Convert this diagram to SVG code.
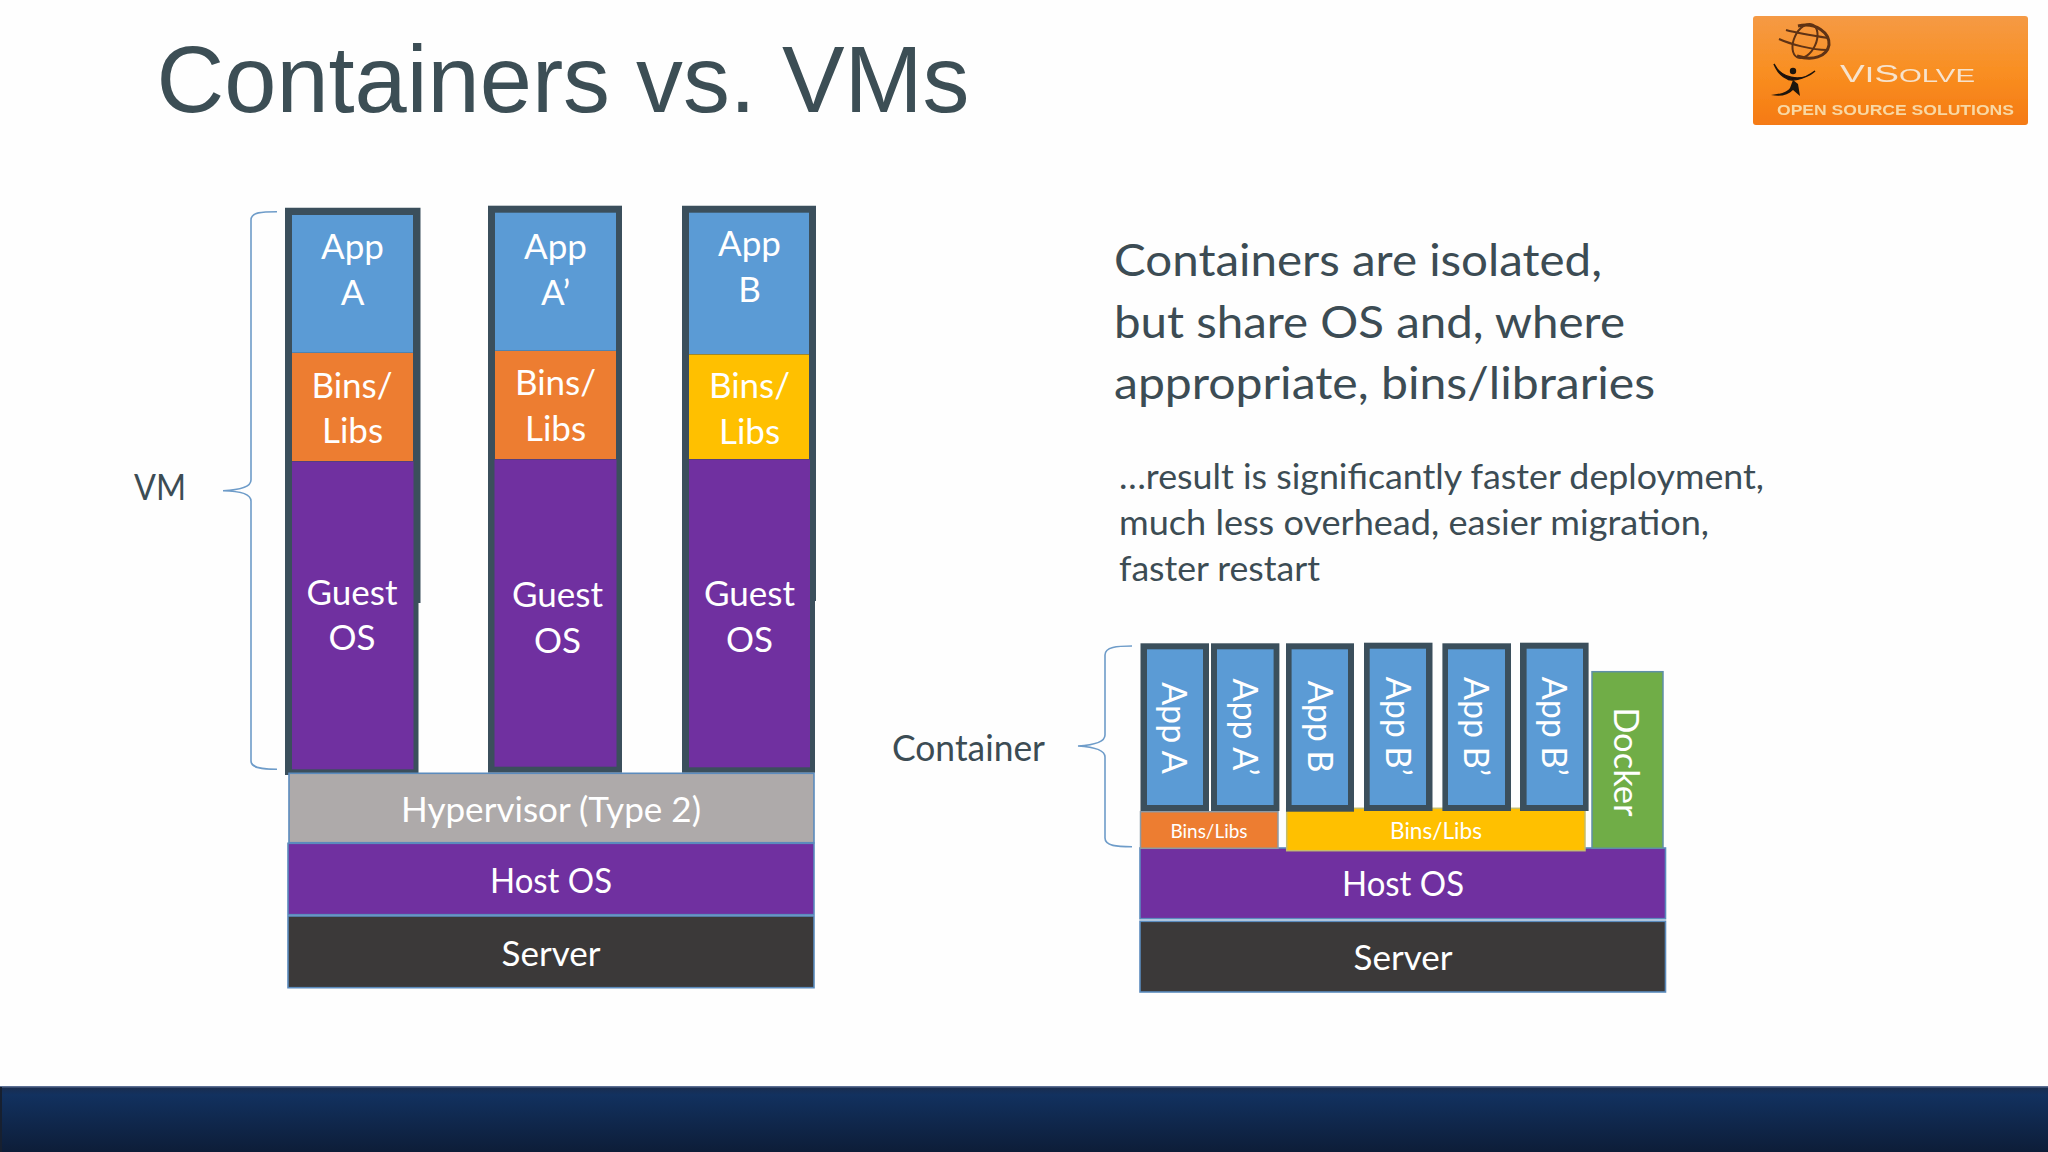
<svg xmlns="http://www.w3.org/2000/svg" width="2048" height="1152" viewBox="0 0 2048 1152">
<style>
text{font-family:"Lato","Carlito","Noto Sans",sans-serif}
.w{fill:#fff;text-anchor:middle}
.f36{font-size:36px}
.f{font-size:35px}
.d{fill:#3c4c54}
.edge{stroke:#5b8bbd;stroke-width:1.6}
.blue{fill:#5b9bd5}.org{fill:#ed7d31}.yel{fill:#ffc000}.pur{fill:#7030a0}.drk{fill:#3b3939}.gry{fill:#aeaaaa}.grn{fill:#70ad47}
.frame{fill:#3b4f5c}
.brace{fill:none;stroke:#6e9cc9;stroke-width:1.6}
</style>
<defs>
<linearGradient id="bar" x1="0" y1="0" x2="0" y2="1"><stop offset="0" stop-color="#1a2d4e"/><stop offset=".12" stop-color="#12315f"/><stop offset="1" stop-color="#0d1d38"/></linearGradient>
<linearGradient id="logo" x1="0" y1="0" x2="0" y2="1"><stop offset="0" stop-color="#f59a45"/><stop offset=".5" stop-color="#f98f22"/><stop offset="1" stop-color="#f57a12"/></linearGradient>
<filter id="soft" x="-5%" y="-5%" width="110%" height="110%"><feGaussianBlur stdDeviation="0.5"/></filter>
</defs>
<rect width="2048" height="1152" fill="#fefefe"/>
<text x="156.500" y="111.500" font-size="94" fill="#3c4e55" style="font-family:'Liberation Sans',Arial,sans-serif" textLength="813" lengthAdjust="spacingAndGlyphs">Containers vs. VMs</text>

<g id="logo-visolve" filter="url(#soft)">
<rect x="1753" y="16" width="275" height="109" rx="3" fill="url(#logo)"/>
<g fill="none" stroke="#5e3212" stroke-width="2">
<path d="M1798 26C1816 22 1830 33 1829 45C1827 57 1812 61 1797 56" stroke-width="3"/>
<ellipse cx="1805" cy="41" rx="11" ry="18" transform="rotate(25 1805 41)"/>
<path d="M1779 39C1790 44 1812 50 1827 50M1786 30C1797 33 1815 36 1828 38"/>
</g>
<path d="M1774 64C1780 77 1800 84 1815 71C1803 80 1790 82 1786 78C1781 76 1777 71 1774 64Z" fill="#1f1208" stroke="#1f1208" stroke-width="1.500"/>
<circle cx="1793" cy="71" r="3.200" fill="#1f1208"/>
<path d="M1793 80L1790 88C1786 93 1780 94 1771 95C1781 97 1788 95 1793 90L1800 96L1798 84Z" fill="#1f1208"/>
<text x="1840" y="82" fill="#f7e3cd" style="font-family:'Liberation Sans',sans-serif" textLength="135" lengthAdjust="spacingAndGlyphs"><tspan font-size="24">V</tspan><tspan font-size="22">I</tspan><tspan font-size="24">S</tspan><tspan font-size="19">OLVE</tspan></text>
<text x="1777" y="115" font-size="14" font-weight="700" fill="#f8d8a4" style="font-family:'Liberation Sans',sans-serif" textLength="237" lengthAdjust="spacingAndGlyphs">OPEN SOURCE SOLUTIONS</text>
</g>

<g id="connectors">
<path class="brace" d="M277 211.700C262 211.700 251 212 251 220V480C251 487 240 490 223 490.700C240 491 251 494 251 501V761C251 768 262 769.300 277 769.300"/>
<path class="brace" d="M1132 646C1117 646 1105 647 1105 655V735C1105 742 1095 745 1078 746C1095 747 1105 750 1105 757V838C1105 846 1117 846.700 1132 846.700"/>
</g>

<g id="vm-label"><text class="d f36" x="134" y="500" textLength="52" lengthAdjust="spacingAndGlyphs">VM</text></g>
<g id="container-label"><text class="d f36" x="892" y="761" textLength="153" lengthAdjust="spacingAndGlyphs">Container</text></g>

<g id="vm-app-a">
<path class="frame" d="M285 207.700H420.500V603H418.500V775H285Z"/>
<rect class="blue" x="292" y="215" width="121" height="137.700"/>
<rect class="org" x="292" y="353" width="121" height="108"/>
<rect class="pur" x="292" y="461.500" width="121.500" height="307.800"/>
<text class="w f" x="352.500" y="258.500">App</text><text class="w f" x="352.500" y="304.500">A</text>
<text class="w f" x="352" y="397.500">Bins/</text><text class="w f" x="352.500" y="443">Libs</text>
<text class="w f" x="352" y="604.500">Guest</text><text class="w f" x="352" y="650">OS</text>
</g>
<g id="vm-app-a-prime">
<rect class="frame" x="488" y="205.700" width="134" height="567"/>
<rect class="blue" x="495" y="212.700" width="121" height="138"/>
<rect class="org" x="495" y="351" width="121" height="108"/>
<rect class="pur" x="494.500" y="459.500" width="122" height="307.200"/>
<text class="w f" x="555.500" y="258.500">App</text><text class="w f" x="555.500" y="304.500">A’</text>
<text class="w f" x="555.500" y="395">Bins/</text><text class="w f" x="555.500" y="441">Libs</text>
<text class="w f" x="557.500" y="607">Guest</text><text class="w f" x="557.500" y="653">OS</text>
</g>
<g id="vm-app-b">
<path class="frame" d="M682 205.700H816V601H815V772.700H682Z"/>
<rect class="blue" x="689" y="212.700" width="120" height="141.300"/>
<rect class="yel" x="689" y="354.500" width="120" height="104.500"/>
<rect class="pur" x="689" y="459.500" width="121" height="307.800"/>
<text class="w f" x="749.500" y="255.500">App</text><text class="w f" x="749.500" y="301.500">B</text>
<text class="w f" x="749.500" y="398">Bins/</text><text class="w f" x="749.500" y="444">Libs</text>
<text class="w f" x="749.500" y="606">Guest</text><text class="w f" x="749.500" y="652">OS</text>
</g>
<g id="vm-hypervisor">
<rect class="gry edge" x="289" y="773.300" width="525" height="69.400"/>
<text class="w f" x="551" y="821.500" textLength="300" lengthAdjust="spacingAndGlyphs">Hypervisor (Type 2)</text>
</g>
<g id="vm-host-os">
<rect class="pur edge" x="288" y="843.300" width="526" height="71.400"/>
<text class="w f" x="551" y="892.500" textLength="122" lengthAdjust="spacingAndGlyphs">Host OS</text>
</g>
<g id="vm-server">
<rect class="drk edge" x="288" y="916" width="526" height="71.700"/>
<text class="w f" x="551" y="966" textLength="99" lengthAdjust="spacingAndGlyphs">Server</text>
</g>

<g id="text-main" class="d" font-size="45">
<text x="1114" y="276" textLength="488" lengthAdjust="spacingAndGlyphs">Containers are isolated,</text>
<text x="1114" y="337.500" textLength="511" lengthAdjust="spacingAndGlyphs">but share OS and, where</text>
<text x="1114" y="399" textLength="541" lengthAdjust="spacingAndGlyphs">appropriate, bins/libraries</text>
</g>
<g id="text-sub" class="d" font-size="34">
<text x="1119" y="488.500" textLength="645" lengthAdjust="spacingAndGlyphs">…result is significantly faster deployment,</text>
<text x="1119" y="535" textLength="590" lengthAdjust="spacingAndGlyphs">much less overhead, easier migration,</text>
<text x="1119" y="581" textLength="201" lengthAdjust="spacingAndGlyphs">faster restart</text>
</g>

<g id="c-host-os">
<rect class="pur edge" x="1140" y="848" width="525.500" height="70.700"/>
<text class="w f" x="1403" y="896" textLength="122" lengthAdjust="spacingAndGlyphs">Host OS</text>
</g>
<g id="c-server">
<rect class="drk edge" x="1140" y="921.300" width="525.500" height="70.700"/>
<text class="w f" x="1403" y="970" textLength="99" lengthAdjust="spacingAndGlyphs">Server</text>
</g>
<g id="c-bins-a">
<rect class="org" x="1140.500" y="811.700" width="137.500" height="36.600" stroke="#8c9aa6" stroke-width="1.500"/>
<text class="w" font-size="20" x="1209" y="837.500" textLength="77" lengthAdjust="spacingAndGlyphs">Bins/Libs</text>
</g>
<g id="c-bins-b">
<rect class="yel" x="1286.700" y="808.300" width="298.300" height="42.400" stroke="#c5bd6b" stroke-width="1.500"/>
<text class="w" font-size="24" x="1436" y="838.500" textLength="92" lengthAdjust="spacingAndGlyphs">Bins/Libs</text>
</g>
<g id="c-app-a">
<rect class="frame" x="1140.500" y="643.300" width="68.500" height="167.700"/>
<rect class="blue" x="1147" y="649.300" width="56" height="155.700"/>
<text class="w" font-size="34" transform="translate(1162 728) rotate(90)">App A</text>
</g>
<g id="c-app-a2">
<rect class="frame" x="1211" y="643.300" width="68.400" height="167.700"/>
<rect class="blue" x="1217" y="649.300" width="56.600" height="155.700"/>
<text class="w" font-size="34" transform="translate(1233 727) rotate(90)">App A’</text>
</g>
<g id="c-app-b">
<rect class="frame" x="1286" y="643.300" width="68" height="168.400"/>
<rect class="blue" x="1291.600" y="649.300" width="56.400" height="155.700"/>
<text class="w" font-size="34" transform="translate(1307.500 726.700) rotate(90)">App B</text>
</g>
<g id="c-app-b2">
<rect class="frame" x="1364" y="642.700" width="68.500" height="168.300"/>
<rect class="blue" x="1369.700" y="648.700" width="56.300" height="156.300"/>
<text class="w" font-size="34" transform="translate(1386 726.300) rotate(90)">App B’</text>
</g>
<g id="c-app-b3">
<rect class="frame" x="1442.400" y="643.300" width="68.600" height="167.700"/>
<rect class="blue" x="1448" y="649.300" width="57" height="155.700"/>
<text class="w" font-size="34" transform="translate(1464 726.500) rotate(90)">App B’</text>
</g>
<g id="c-app-b4">
<rect class="frame" x="1520" y="642.700" width="68.600" height="168.300"/>
<rect class="blue" x="1526.600" y="648.700" width="56.400" height="156.300"/>
<text class="w" font-size="34" transform="translate(1542 726.300) rotate(90)">App B’</text>
</g>
<g id="c-docker">
<rect class="grn" x="1592" y="671.700" width="71" height="176.600" stroke="#5f8fa8" stroke-width="1.500"/>
<text class="w" font-size="34.500" transform="translate(1614 761.800) rotate(90)">Docker</text>
</g>

<g id="footer-bar">
<rect x="0" y="1087" width="2048" height="65" fill="url(#bar)"/>
<rect x="0" y="1086" width="2048" height="1.500" fill="#5a6e92"/>
<rect x="0" y="1087" width="2" height="65" fill="#172030"/>
</g>
</svg>
